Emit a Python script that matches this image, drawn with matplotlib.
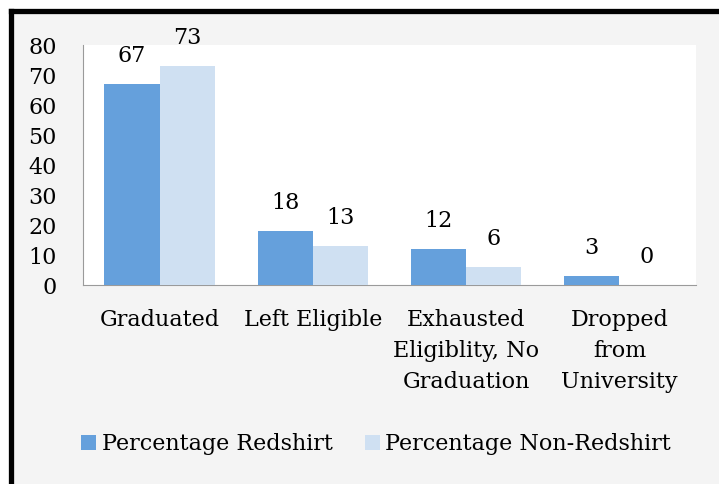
import matplotlib
matplotlib.use('Agg')
from matplotlib import pyplot as plt
from matplotlib.patches import Rectangle
from matplotlib.lines import Line2D
import numpy as np

categories = ['Graduated', 'Left Eligible', 'Exhausted\nEligiblity, No\nGraduation', 'Dropped\nfrom\nUniversity']
redshirt = [67, 18, 12, 3]
non_redshirt = [73, 13, 6, 0]
series_names = ['Percentage Redshirt', 'Percentage Non-Redshirt']
yticks = [0, 10, 20, 30, 40, 50, 60, 70, 80]

plt.rcParams['font.family'] = ['DejaVu Serif']
FS = 16

W, H = 719, 484
fig = plt.figure(figsize=(W / 100, H / 100), dpi=100)
fig.patch.set_facecolor('white')

# grey panel with heavy black border on the left and top
fig.add_artist(Rectangle((11 / W, 0), 1, 1 - 11 / H, transform=fig.transFigure,
                         facecolor='#f4f4f4', edgecolor='none', zorder=0))
fig.add_artist(Line2D([10.5 / W, 10.5 / W], [0, 1 - 10.5 / H], transform=fig.transFigure,
                      color='black', linewidth=3.8, solid_capstyle='projecting'))
fig.add_artist(Line2D([10.5 / W, 1], [1 - 10.5 / H, 1 - 10.5 / H], transform=fig.transFigure,
                      color='black', linewidth=3.8, solid_capstyle='projecting'))

left, right, top, bottom = 83, 696, 45, 285
ax = fig.add_axes([left / W, 1 - bottom / H, (right - left) / W, (bottom - top) / H])
ax.set_facecolor('white')

x = np.arange(len(categories))
w = 0.36
b1 = ax.bar(x - w / 2, redshirt, w, color='#65a0dc', label=series_names[0], zorder=3)
b2 = ax.bar(x + w / 2, non_redshirt, w, color='#cfe0f2', label=series_names[1], zorder=3)

for bars, vals in ((b1, redshirt), (b2, non_redshirt)):
    for r, v in zip(bars, vals):
        ax.annotate(str(v), (r.get_x() + r.get_width() / 2, v), xytext=(0, 12),
                    textcoords='offset points', ha='center', va='bottom', fontsize=FS)

ax.set_xlim(-0.5, len(categories) - 0.5)
ax.set_ylim(0, 80)
ax.set_yticks(yticks)
ax.set_xticks(x)
ax.set_xticklabels(categories, fontsize=FS, linespacing=1.55)
ax.tick_params(axis='y', length=0, labelsize=FS, pad=19)
ax.tick_params(axis='x', length=0, pad=17)
for lbl in ax.get_yticklabels():
    lbl.set_horizontalalignment('right')
for s in ('top', 'right'):
    ax.spines[s].set_visible(False)
ax.spines['left'].set_color('#9a9a9a')
ax.spines['bottom'].set_color('#9a9a9a')

fig.legend(handles=[b1, b2], loc='center left', bbox_to_anchor=(81 / W, 1 - 444 / H),
           ncol=2, frameon=False, fontsize=FS, handlelength=0.68, handleheight=0.68,
           handletextpad=0.25, columnspacing=1.45, borderpad=0, borderaxespad=0)

fig.savefig('out.png', dpi=100, facecolor=fig.get_facecolor())
